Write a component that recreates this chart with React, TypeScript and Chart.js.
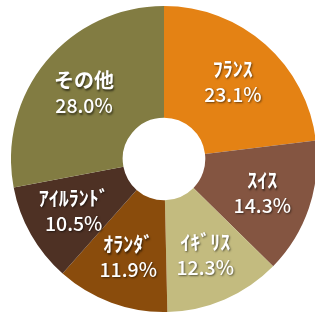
import React, { useEffect, useRef } from "react";
import { Chart, registerables } from "chart.js";

Chart.register(...registerables);

const categories = ["ﾌﾗﾝｽ", "ｽｲｽ", "ｲｷﾞﾘｽ", "ｵﾗﾝﾀﾞ", "ｱｲﾙﾗﾝﾄﾞ", "その他"];
const shares = [23.1, 14.3, 12.3, 11.9, 10.5, 28.0];
const colors = ["#E48214", "#845541", "#C3BB7F", "#8A4C0C", "#4E3124", "#827C42"];

const labelPlugin = {
  id: "sliceLabels",
  afterDatasetsDraw(chart: any) {
    const ctx = chart.ctx;
    const meta = chart.getDatasetMeta(0);
    meta.data.forEach((arc: any, i: number) => {
      const p = arc.getProps(["startAngle", "endAngle", "innerRadius", "outerRadius", "x", "y"], true);
      const mid = (p.startAngle + p.endAngle) / 2;
      const r = p.innerRadius + 0.56 * (p.outerRadius - p.innerRadius);
      const cx = p.x + Math.cos(mid) * r;
      const cy = p.y + Math.sin(mid) * r;
      ctx.save();
      ctx.fillStyle = "#ffffff";
      ctx.textAlign = "center";
      ctx.textBaseline = "middle";
      ctx.shadowColor = "rgba(0,0,0,0.55)";
      ctx.shadowOffsetX = 1;
      ctx.shadowOffsetY = 1.5;
      ctx.shadowBlur = 2;
      ctx.font = "bold 20px 'Noto Sans CJK JP'";
      ctx.fillText(categories[i], cx, cy - 12);
      ctx.font = "500 19.5px 'Noto Sans CJK JP'";
      ctx.fillText(shares[i].toFixed(1) + "%", cx, cy + 13);
      ctx.restore();
    });
  },
};

export default function App() {
  const ref = useRef<HTMLCanvasElement>(null);
  useEffect(() => {
    if (!ref.current) return;
    const chart = new Chart(ref.current, {
      type: "doughnut",
      data: {
        labels: categories,
        datasets: [
          {
            data: shares,
            backgroundColor: colors,
            borderWidth: 0,
          },
        ],
      },
      options: {
        animation: false,
        responsive: false,
        cutout: "27%",
        layout: { padding: 0 },
        plugins: {
          legend: { display: false },
          tooltip: { enabled: false },
        },
      },
      plugins: [labelPlugin],
    });
    return () => chart.destroy();
  }, []);
  return (
    <div
      style={{
        position: "fixed",
        left: 0,
        top: 0,
        width: 315,
        height: 314,
        overflow: "hidden",
        background: "#fff",
      }}
    >
      <div style={{ position: "absolute", left: 10.5, top: 6, width: 306, height: 306 }}>
        <canvas ref={ref} width={306} height={306} style={{ width: 306, height: 306 }} />
      </div>
    </div>
  );
}
